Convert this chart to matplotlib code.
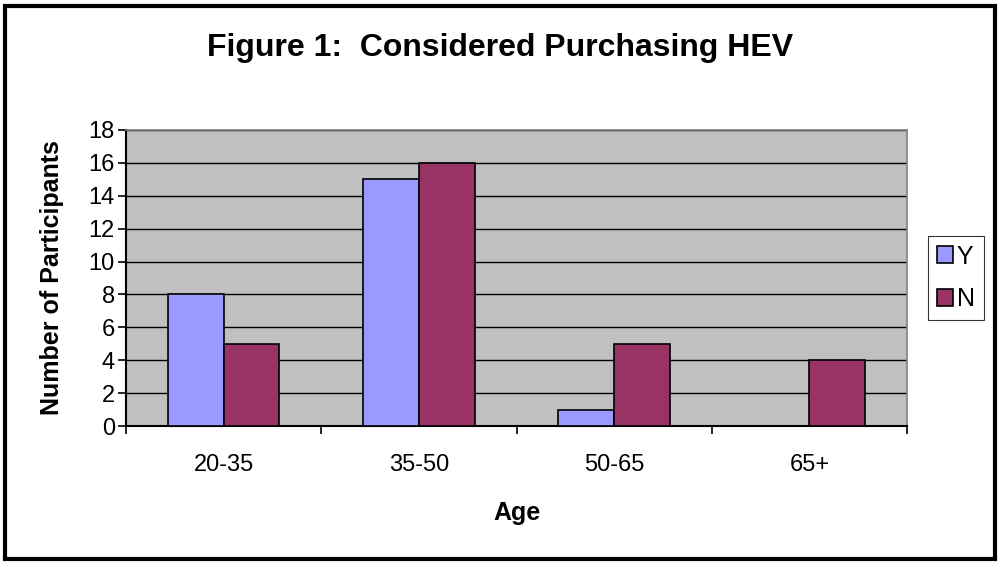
import matplotlib.pyplot as plt
import numpy as np
from matplotlib.patches import Rectangle

# Daten
ages = ['20-35', '35-50', '50-65', '65+']
yes_counts = [8, 15, 1, 0]
no_counts = [5, 16, 5, 4]

plt.rcParams['font.family'] = ['Liberation Sans', 'DejaVu Sans']

fig = plt.figure(figsize=(10, 5.65), dpi=100)
ax = fig.add_axes([0.126, 0.246, 0.781, 0.524])
ax.set_facecolor('#C0C0C0')

x = np.arange(len(ages))
w = 2 / 3.5 / 2
ax.bar(x - w / 2, yes_counts, w, color='#9999FF', edgecolor='black', linewidth=1.2, label='Y', zorder=3)
ax.bar(x + w / 2, no_counts, w, color='#993366', edgecolor='black', linewidth=1.2, label='N', zorder=3)

ax.set_xlim(-0.5, len(ages) - 0.5)
ax.set_ylim(0, 18)
ax.set_yticks(range(0, 19, 2))
ax.yaxis.grid(True, color='black', linewidth=1, zorder=1)
ax.set_axisbelow(True)

# x-Ticks an den Kategoriegrenzen
ax.set_xticks(np.arange(-0.5, len(ages), 1))
ax.set_xticklabels([])
ax.set_xticks(x, minor=True)
ax.set_xticklabels(ages, minor=True, fontsize=17)
ax.tick_params(axis='x', which='minor', length=0, pad=20)
ax.tick_params(axis='x', which='major', length=6, width=1.2, direction='out')
ax.tick_params(axis='y', length=6, width=1.2, labelsize=17, pad=2)

for s in ['top', 'right']:
    ax.spines[s].set_color('#808080')
    ax.spines[s].set_linewidth(1.2)
for s in ['left', 'bottom']:
    ax.spines[s].set_color('black')
    ax.spines[s].set_linewidth(1.5)

ax.set_xlabel('Age', fontsize=18, fontweight='bold', labelpad=18)
ax.set_ylabel('Number of Participants', fontsize=18, fontweight='bold', labelpad=18)

fig.text(0.5, 0.915, 'Figure 1:  Considered Purchasing HEV', ha='center', va='center',
         fontsize=23, fontweight='bold')

leg = ax.legend(loc='center left', bbox_to_anchor=(1.027, 0.5), borderaxespad=0, fontsize=18,
                frameon=True, fancybox=False, edgecolor='black', handlelength=0.65, handleheight=0.65,
                handletextpad=0.15, borderpad=0.35, labelspacing=0.75)
leg.get_frame().set_linewidth(0.8)

# Rahmen um die ganze Grafik
fig.patches.append(Rectangle((0.005, 0.01), 0.99, 0.98, transform=fig.transFigure,
                             fill=False, edgecolor='black', linewidth=3))

fig.savefig('out.png', dpi=100)
